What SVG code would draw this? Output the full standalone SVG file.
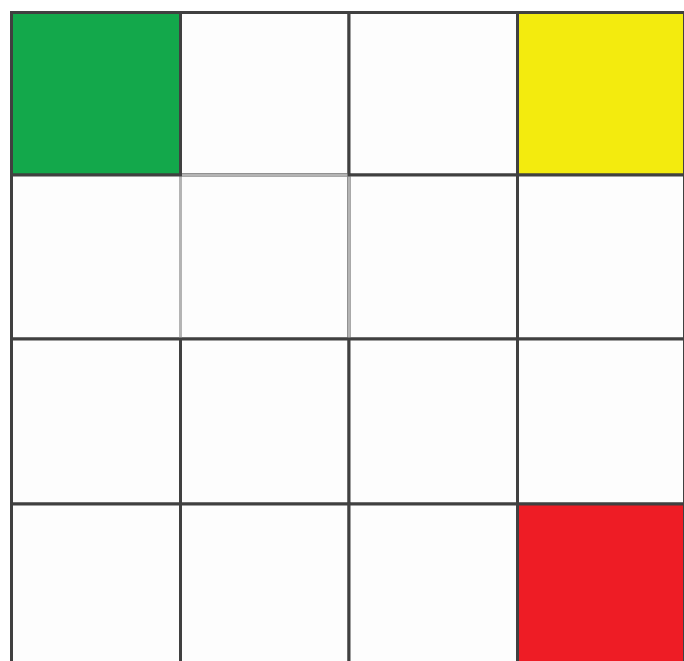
<svg xmlns="http://www.w3.org/2000/svg" width="684" height="661" viewBox="0 0 684 661">
<style>
.cell{fill:#fdfdfd;stroke:#404040;stroke-width:3}
.g{fill:#13a84b}
.y{fill:#f3eb0e}
.r{fill:#ee1c25}
.light{stroke:#b4b4b4;stroke-width:3;fill:none}
</style>
<rect width="684" height="661" fill="#ffffff"/>
<g id="cells">
<g id="c00"><rect class="cell g" x="11.5" y="12.5" width="169" height="162.5"/></g>
<g id="c01"><rect class="cell" x="180.5" y="12.5" width="168.5" height="162.5"/></g>
<g id="c02"><rect class="cell" x="349" y="12.5" width="168.5" height="162.5"/></g>
<g id="c03"><rect class="cell y" x="517.5" y="12.5" width="167" height="162.5"/></g>
<g id="c10"><rect class="cell" x="11.5" y="175" width="169" height="164"/></g>
<g id="c11"><rect class="cell" x="180.5" y="175" width="168.5" height="164"/></g>
<g id="c12"><rect class="cell" x="349" y="175" width="168.5" height="164"/></g>
<g id="c13"><rect class="cell" x="517.5" y="175" width="167" height="164"/></g>
<g id="c20"><rect class="cell" x="11.5" y="339" width="169" height="165"/></g>
<g id="c21"><rect class="cell" x="180.5" y="339" width="168.5" height="165"/></g>
<g id="c22"><rect class="cell" x="349" y="339" width="168.5" height="165"/></g>
<g id="c23"><rect class="cell" x="517.5" y="339" width="167" height="165"/></g>
<g id="c30"><rect class="cell" x="11.5" y="504" width="169" height="165"/></g>
<g id="c31"><rect class="cell" x="180.5" y="504" width="168.5" height="165"/></g>
<g id="c32"><rect class="cell" x="349" y="504" width="168.5" height="165"/></g>
<g id="c33"><rect class="cell r" x="517.5" y="504" width="167" height="165"/></g>
</g>
<g id="connectors">
<path class="light" d="M180.5 176.5V337.5M349 176.5V337.5M182 175H347.5"/>
</g>
</svg>
